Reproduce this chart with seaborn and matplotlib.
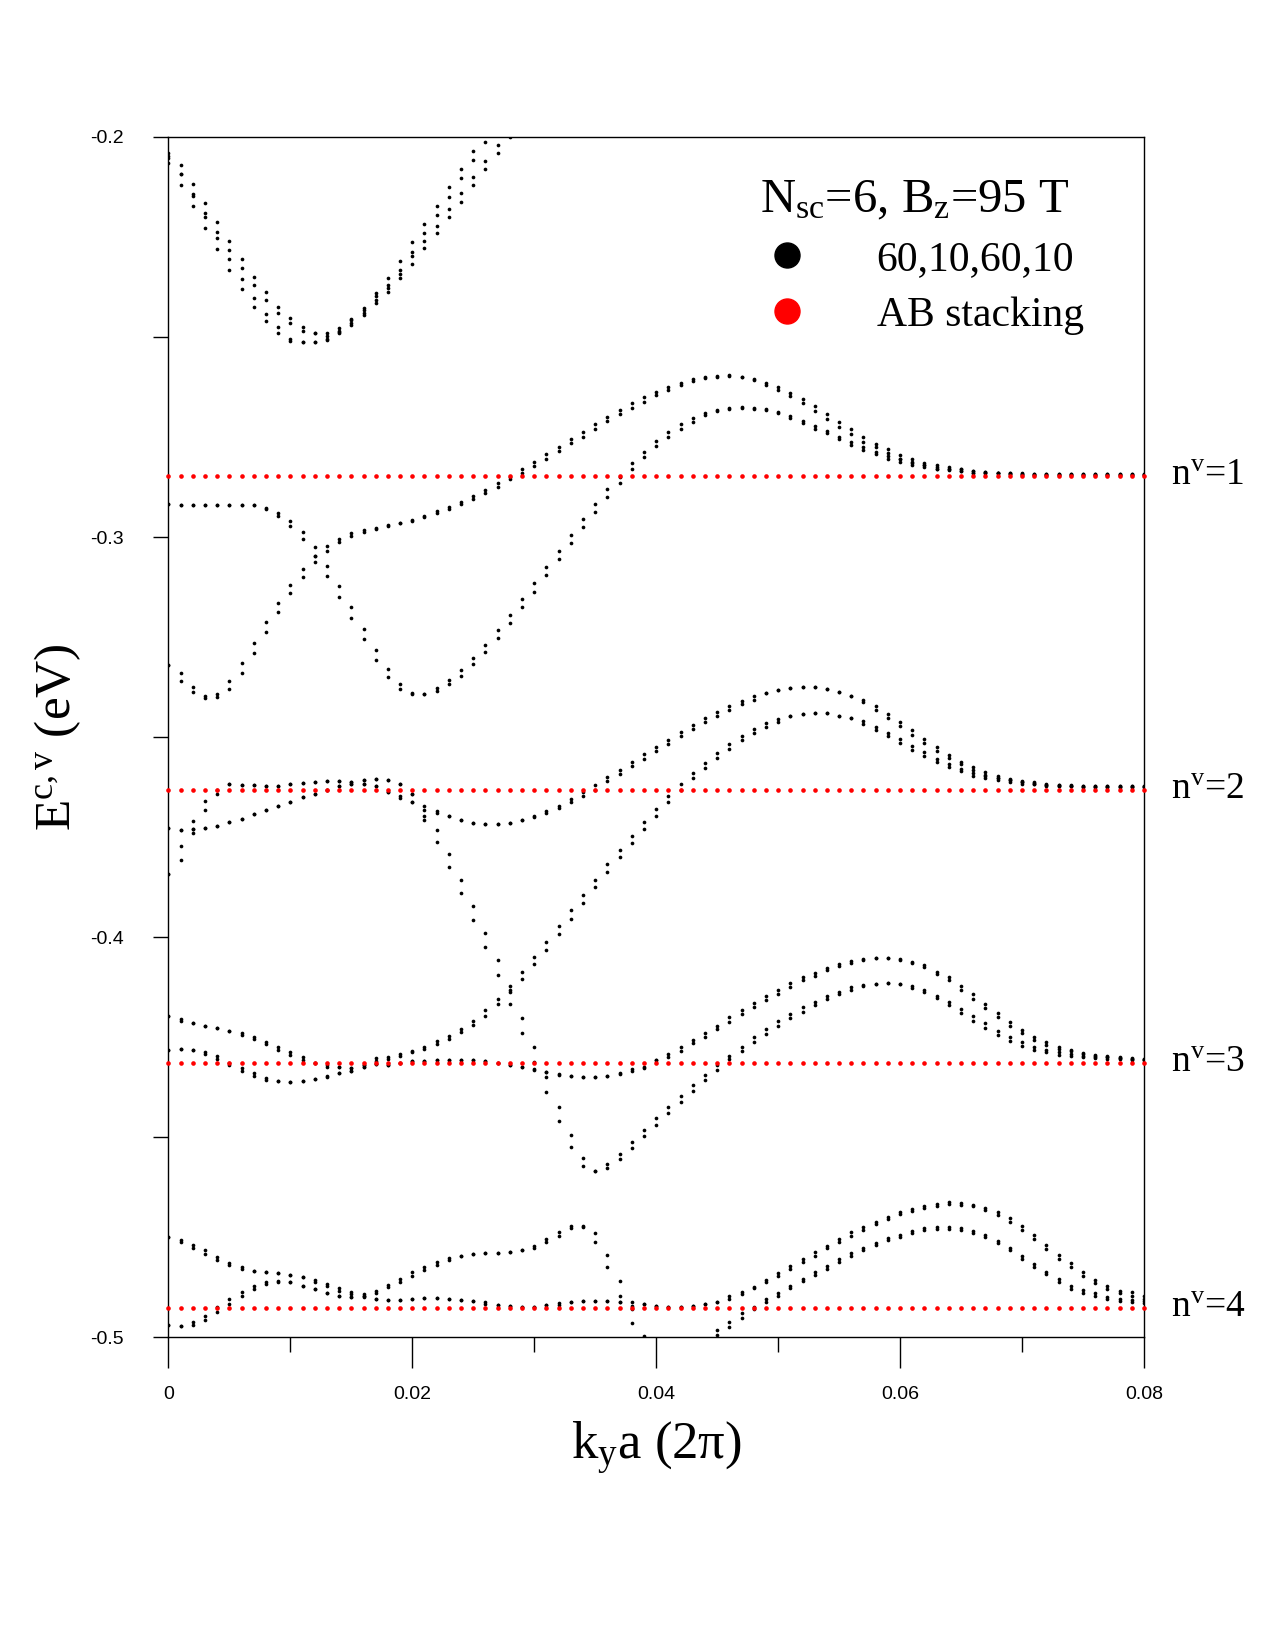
import numpy as np
import pandas as pd
import matplotlib
matplotlib.use('Agg')
import matplotlib.pyplot as plt
from matplotlib.lines import Line2D
import seaborn as sns

# k_y a (2pi) sampling grid of the calculation (step 0.001)
ky = np.round(np.arange(81) * 0.001, 3)

# AB stacking Landau levels n^v = 1..4 (eV)
ab_levels = [-0.2848, -0.3631, -0.4313, -0.4926]
ab_names = ['n$^{\\rm v}$=1', 'n$^{\\rm v}$=2', 'n$^{\\rm v}$=3', 'n$^{\\rm v}$=4']

# 60,10,60,10 bands, E (eV) at ky[start:]
band_A1 = [-0.2041, -0.2071, -0.2118, -0.2166, -0.2214, -0.2261, -0.2306, -0.2350, -0.2389, -0.2425,
           -0.2454, -0.2476, -0.2490, -0.2491, -0.2479, -0.2456, -0.2427, -0.2391, -0.2352, -0.2310,
           -0.2264, -0.2219, -0.2172, -0.2125, -0.2081, -0.2036, -0.1991, -0.1950]
band_A2 = [-0.2047, -0.2094, -0.2143, -0.2191, -0.2238, -0.2284, -0.2329, -0.2371, -0.2408, -0.2441,
           -0.2466, -0.2485, -0.2491, -0.2498, -0.2485, -0.2458, -0.2433, -0.2398, -0.2371, -0.2333,
           -0.2287, -0.2241, -0.2196, -0.2150, -0.2104, -0.2058, -0.2014, -0.1971]
band_A3 = [-0.2054, -0.2094, -0.2147, -0.2201, -0.2254, -0.2306, -0.2356, -0.2402, -0.2444, -0.2476,
           -0.2504, -0.2513, -0.2513, -0.2504, -0.2488, -0.2466, -0.2440, -0.2408, -0.2379, -0.2343,
           -0.2298, -0.2260, -0.2223, -0.2181, -0.2141, -0.2100, -0.2061, -0.2021, -0.1979]
band_A4 = [-0.2066, -0.2121, -0.2174, -0.2227, -0.2281, -0.2332, -0.2381, -0.2425, -0.2461, -0.2490,
           -0.2510, -0.2513, -0.2513, -0.2508, -0.2491, -0.2471, -0.2446, -0.2416, -0.2387, -0.2354,
           -0.2318, -0.2279, -0.2241, -0.2201, -0.2162, -0.2121, -0.2081, -0.2041, -0.2000]

band_P1 = [-0.2918, -0.2920, -0.2921, -0.2921, -0.2920, -0.2919, -0.2919, -0.2921, -0.2927, -0.2939,
           -0.2959, -0.2988, -0.3026, -0.3072, -0.3122, -0.3176, -0.3230, -0.3283, -0.3330, -0.3366,
           -0.3389, -0.3391, -0.3377, -0.3358, -0.3333, -0.3302, -0.3269, -0.3233, -0.3196, -0.3156,
           -0.3116, -0.3076, -0.3035, -0.2996, -0.2956, -0.2917, -0.2881, -0.2850, -0.2816, -0.2787,
           -0.2761, -0.2738, -0.2718, -0.2702, -0.2690, -0.2683, -0.2677, -0.2676, -0.2677, -0.2681,
           -0.2688, -0.2698, -0.2710, -0.2723, -0.2735, -0.2750, -0.2762, -0.2775, -0.2787, -0.2798,
           -0.2806, -0.2815, -0.2821, -0.2825, -0.2829, -0.2831, -0.2835, -0.2837, -0.2839, -0.2840,
           -0.2841, -0.2842, -0.2842, -0.2842, -0.2842, -0.2842, -0.2842, -0.2842, -0.2842, -0.2842, -0.2842]
band_P2 = [-0.2918, -0.2920, -0.2921, -0.2921, -0.2920, -0.2919, -0.2919, -0.2921, -0.2931, -0.2947,
           -0.2972, -0.3006, -0.3048, -0.3097, -0.3149, -0.3203, -0.3256, -0.3308, -0.3350, -0.3380,
           -0.3391, -0.3393, -0.3385, -0.3368, -0.3346, -0.3318, -0.3287, -0.3252, -0.3216, -0.3176,
           -0.3137, -0.3096, -0.3056, -0.3015, -0.2976, -0.2937, -0.2900, -0.2865, -0.2831, -0.2801,
           -0.2773, -0.2750, -0.2729, -0.2712, -0.2696, -0.2686, -0.2679, -0.2677, -0.2679, -0.2683,
           -0.2691, -0.2702, -0.2715, -0.2729, -0.2741, -0.2756, -0.2769, -0.2783, -0.2793, -0.2804,
           -0.2812, -0.2821, -0.2825, -0.2831, -0.2833, -0.2836, -0.2839, -0.2841, -0.2841, -0.2842,
           -0.2843, -0.2844, -0.2844, -0.2844, -0.2844, -0.2844, -0.2844, -0.2844, -0.2844, -0.2844, -0.2844]

band_Q1 = [-0.3321, -0.3340, -0.3375, -0.3398, -0.3391, -0.3360, -0.3314, -0.3264, -0.3212, -0.3164,
           -0.3119, -0.3080, -0.3048, -0.3022, -0.3006, -0.2991, -0.2983, -0.2977, -0.2971, -0.2965,
           -0.2957, -0.2947, -0.2936, -0.2925, -0.2912, -0.2898, -0.2883, -0.2866, -0.2851, -0.2831,
           -0.2812, -0.2793, -0.2775, -0.2756, -0.2737, -0.2718, -0.2700, -0.2683, -0.2666, -0.2651,
           -0.2637, -0.2625, -0.2615, -0.2606, -0.2601, -0.2598, -0.2596, -0.2600, -0.2604, -0.2614,
           -0.2625, -0.2639, -0.2654, -0.2673, -0.2693, -0.2712, -0.2731, -0.2750, -0.2768, -0.2781,
           -0.2794, -0.2804, -0.2814, -0.2821, -0.2826, -0.2831, -0.2835, -0.2837, -0.2839, -0.2841,
           -0.2842, -0.2842, -0.2842, -0.2842, -0.2842, -0.2842, -0.2842, -0.2842, -0.2842, -0.2842, -0.2842]
band_Q2 = [-0.3321, -0.3360, -0.3387, -0.3401, -0.3400, -0.3379, -0.3339, -0.3289, -0.3238, -0.3187,
           -0.3141, -0.3100, -0.3062, -0.3035, -0.3013, -0.2998, -0.2988, -0.2979, -0.2973, -0.2966,
           -0.2959, -0.2951, -0.2941, -0.2931, -0.2918, -0.2906, -0.2891, -0.2875, -0.2856, -0.2840,
           -0.2823, -0.2804, -0.2786, -0.2766, -0.2750, -0.2730, -0.2711, -0.2693, -0.2677, -0.2662,
           -0.2646, -0.2633, -0.2621, -0.2610, -0.2603, -0.2600, -0.2598, -0.2601, -0.2608, -0.2621,
           -0.2633, -0.2648, -0.2666, -0.2685, -0.2704, -0.2725, -0.2743, -0.2762, -0.2776, -0.2790,
           -0.2804, -0.2812, -0.2821, -0.2829, -0.2831, -0.2835, -0.2839, -0.2841, -0.2841, -0.2843,
           -0.2844, -0.2844, -0.2844, -0.2844, -0.2844, -0.2844, -0.2844, -0.2844, -0.2844, -0.2844, -0.2844]

band_T1 = [-0.3841, -0.3772, -0.3709, -0.3660, -0.3631, -0.3618, -0.3619, -0.3619, -0.3621, -0.3621,
           -0.3618, -0.3615, -0.3612, -0.3610, -0.3610, -0.3612, -0.3606, -0.3604, -0.3608, -0.3616,
           -0.3641, -0.3672, -0.3685, -0.3698, -0.3708, -0.3714, -0.3716, -0.3716, -0.3714, -0.3708,
           -0.3696, -0.3685, -0.3671, -0.3654, -0.3637, -0.3619, -0.3600, -0.3581, -0.3562, -0.3543,
           -0.3525, -0.3506, -0.3487, -0.3469, -0.3452, -0.3436, -0.3422, -0.3410, -0.3398, -0.3390,
           -0.3383, -0.3377, -0.3375, -0.3375, -0.3379, -0.3386, -0.3396, -0.3408, -0.3422, -0.3441,
           -0.3461, -0.3483, -0.3504, -0.3525, -0.3544, -0.3561, -0.3575, -0.3587, -0.3596, -0.3604,
           -0.3610, -0.3612, -0.3616, -0.3619, -0.3621, -0.3623, -0.3623, -0.3623, -0.3623, -0.3623, -0.3623]
band_T2 = [-0.3841, -0.3806, -0.3739, -0.3683, -0.3641, -0.3618, -0.3619, -0.3619, -0.3621, -0.3621,
           -0.3618, -0.3615, -0.3612, -0.3610, -0.3610, -0.3612, -0.3606, -0.3604, -0.3608, -0.3616,
           -0.3641, -0.3683, -0.3690, -0.3698, -0.3708, -0.3714, -0.3716, -0.3716, -0.3714, -0.3708,
           -0.3700, -0.3690, -0.3677, -0.3662, -0.3646, -0.3631, -0.3610, -0.3591, -0.3573, -0.3554,
           -0.3535, -0.3516, -0.3497, -0.3479, -0.3462, -0.3446, -0.3431, -0.3418, -0.3406, -0.3390,
           -0.3383, -0.3377, -0.3375, -0.3375, -0.3379, -0.3386, -0.3396, -0.3412, -0.3431, -0.3451,
           -0.3472, -0.3494, -0.3515, -0.3535, -0.3552, -0.3568, -0.3583, -0.3594, -0.3602, -0.3608,
           -0.3612, -0.3616, -0.3619, -0.3621, -0.3623, -0.3625, -0.3625, -0.3625, -0.3625, -0.3625, -0.3625]

band_S1 = [-0.3726, -0.3731, -0.3729, -0.3727, -0.3721, -0.3713, -0.3704, -0.3691, -0.3683, -0.3672,
           -0.3662, -0.3650, -0.3641, -0.3633, -0.3621, -0.3616, -0.3616, -0.3622, -0.3637, -0.3646,
           -0.3662, -0.3698, -0.3733, -0.3793, -0.3856, -0.3922, -0.3990, -0.4058, -0.4131, -0.4202,
           -0.4275, -0.4350, -0.4423, -0.4494, -0.4552, -0.4583, -0.4566, -0.4541, -0.4512, -0.4481,
           -0.4452, -0.4425, -0.4396, -0.4369, -0.4344, -0.4318, -0.4296, -0.4273, -0.4250, -0.4229,
           -0.4210, -0.4191, -0.4175, -0.4161, -0.4146, -0.4137, -0.4125, -0.4119, -0.4116, -0.4115,
           -0.4118, -0.4123, -0.4133, -0.4146, -0.4161, -0.4179, -0.4197, -0.4215, -0.4235, -0.4250,
           -0.4262, -0.4273, -0.4281, -0.4287, -0.4291, -0.4296, -0.4298, -0.4300, -0.4301, -0.4303, -0.4304]
band_S2 = [-0.3726, -0.3731, -0.3729, -0.3727, -0.3721, -0.3713, -0.3704, -0.3691, -0.3683, -0.3672,
           -0.3662, -0.3650, -0.3641, -0.3633, -0.3621, -0.3616, -0.3616, -0.3622, -0.3637, -0.3651,
           -0.3662, -0.3708, -0.3762, -0.3825, -0.3889, -0.3956, -0.4025, -0.4094, -0.4166, -0.4239,
           -0.4311, -0.4387, -0.4460, -0.4525, -0.4572, -0.4583, -0.4576, -0.4554, -0.4526, -0.4497,
           -0.4468, -0.4439, -0.4411, -0.4383, -0.4356, -0.4331, -0.4304, -0.4285, -0.4262, -0.4241,
           -0.4221, -0.4201, -0.4186, -0.4169, -0.4154, -0.4141, -0.4131, -0.4123, -0.4116, -0.4115,
           -0.4118, -0.4126, -0.4137, -0.4151, -0.4169, -0.4189, -0.4208, -0.4226, -0.4243, -0.4258,
           -0.4271, -0.4281, -0.4287, -0.4293, -0.4296, -0.4298, -0.4301, -0.4303, -0.4305, -0.4306, -0.4306]

band_R1 = [-0.4196, -0.4204, -0.4215, -0.4222, -0.4227, -0.4233, -0.4240, -0.4250, -0.4261, -0.4275,
           -0.4287, -0.4300, -0.4313, -0.4318, -0.4323, -0.4327, -0.4318, -0.4302, -0.4300, -0.4291,
           -0.4283, -0.4273, -0.4260, -0.4246, -0.4229, -0.4208, -0.4183, -0.4154, -0.4121, -0.4087,
           -0.4050, -0.4012, -0.3973, -0.3933, -0.3894, -0.3856, -0.3818, -0.3781, -0.3746, -0.3711,
           -0.3679, -0.3646, -0.3618, -0.3590, -0.3565, -0.3540, -0.3518, -0.3497, -0.3479, -0.3465,
           -0.3454, -0.3447, -0.3441, -0.3439, -0.3440, -0.3446, -0.3452, -0.3460, -0.3475, -0.3489,
           -0.3504, -0.3521, -0.3537, -0.3554, -0.3566, -0.3579, -0.3589, -0.3596, -0.3601, -0.3608,
           -0.3612, -0.3615, -0.3619, -0.3619, -0.3619, -0.3623, -0.3623, -0.3623, -0.3623, -0.3623, -0.3623]
band_R2 = [-0.4196, -0.4208, -0.4215, -0.4222, -0.4227, -0.4233, -0.4243, -0.4255, -0.4266, -0.4281,
           -0.4294, -0.4306, -0.4313, -0.4323, -0.4323, -0.4327, -0.4318, -0.4308, -0.4305, -0.4296,
           -0.4287, -0.4279, -0.4266, -0.4254, -0.4237, -0.4218, -0.4196, -0.4168, -0.4137, -0.4104,
           -0.4068, -0.4031, -0.3993, -0.3954, -0.3914, -0.3875, -0.3837, -0.3800, -0.3764, -0.3729,
           -0.3696, -0.3662, -0.3631, -0.3602, -0.3576, -0.3551, -0.3529, -0.3508, -0.3490, -0.3475,
           -0.3462, -0.3447, -0.3441, -0.3439, -0.3440, -0.3446, -0.3452, -0.3466, -0.3481, -0.3498,
           -0.3514, -0.3531, -0.3548, -0.3562, -0.3575, -0.3585, -0.3596, -0.3601, -0.3608, -0.3612,
           -0.3616, -0.3618, -0.3621, -0.3621, -0.3621, -0.3625, -0.3625, -0.3625, -0.3625, -0.3625, -0.3625]

band_W1 = [-0.4281, -0.4280, -0.4281, -0.4287, -0.4296, -0.4315, -0.4327, -0.4340, -0.4352, -0.4360,
           -0.4362, -0.4360, -0.4355, -0.4346, -0.4339, -0.4333, -0.4323, -0.4316, -0.4318, -0.4313,
           -0.4308, -0.4308, -0.4306, -0.4306, -0.4306, -0.4306, -0.4308, -0.4315, -0.4318, -0.4325,
           -0.4329, -0.4336, -0.4341, -0.4347, -0.4350, -0.4350, -0.4347, -0.4339, -0.4330, -0.4323,
           -0.4306, -0.4291, -0.4275, -0.4256, -0.4239, -0.4221, -0.4200, -0.4181, -0.4165, -0.4146,
           -0.4131, -0.4115, -0.4100, -0.4089, -0.4077, -0.4068, -0.4060, -0.4054, -0.4052, -0.4052,
           -0.4054, -0.4061, -0.4070, -0.4086, -0.4100, -0.4121, -0.4143, -0.4166, -0.4190, -0.4211,
           -0.4231, -0.4248, -0.4262, -0.4273, -0.4281, -0.4288, -0.4293, -0.4297, -0.4300, -0.4301, -0.4304]
band_W2 = [-0.4281, -0.4280, -0.4281, -0.4291, -0.4304, -0.4318, -0.4333, -0.4346, -0.4356, -0.4360,
           -0.4362, -0.4360, -0.4355, -0.4350, -0.4339, -0.4333, -0.4323, -0.4316, -0.4318, -0.4313,
           -0.4308, -0.4308, -0.4306, -0.4306, -0.4306, -0.4306, -0.4308, -0.4315, -0.4318, -0.4325,
           -0.4331, -0.4336, -0.4344, -0.4347, -0.4350, -0.4350, -0.4347, -0.4341, -0.4333, -0.4326,
           -0.4306, -0.4298, -0.4283, -0.4265, -0.4248, -0.4229, -0.4211, -0.4191, -0.4175, -0.4156,
           -0.4141, -0.4125, -0.4108, -0.4096, -0.4083, -0.4073, -0.4065, -0.4057, -0.4052, -0.4052,
           -0.4057, -0.4064, -0.4075, -0.4091, -0.4108, -0.4131, -0.4154, -0.4177, -0.4200, -0.4221,
           -0.4240, -0.4256, -0.4268, -0.4279, -0.4285, -0.4291, -0.4296, -0.4300, -0.4302, -0.4304, -0.4306]

band_X1 = [-0.4750, -0.4756, -0.4769, -0.4781, -0.4798, -0.4815, -0.4825, -0.4833, -0.4837, -0.4840,
           -0.4844, -0.4850, -0.4856, -0.4866, -0.4876, -0.4887, -0.4891, -0.4904, -0.4906, -0.4906,
           -0.4904, -0.4902, -0.4902, -0.4904, -0.4906, -0.4910, -0.4912, -0.4918, -0.4921, -0.4925,
           -0.4925, -0.4918, -0.4915, -0.4912, -0.4908, -0.4908, -0.4908, -0.4911, -0.4912, -0.4916,
           -0.4921, -0.4923, -0.4923, -0.4921, -0.4916, -0.4911, -0.4897, -0.4887, -0.4873, -0.4856,
           -0.4839, -0.4821, -0.4804, -0.4787, -0.4771, -0.4754, -0.4737, -0.4725, -0.4712, -0.4700,
           -0.4687, -0.4678, -0.4671, -0.4666, -0.4662, -0.4664, -0.4668, -0.4676, -0.4687, -0.4702,
           -0.4721, -0.4743, -0.4768, -0.4793, -0.4815, -0.4837, -0.4856, -0.4871, -0.4883, -0.4887, -0.4897]
band_X2 = [-0.4750, -0.4762, -0.4776, -0.4791, -0.4806, -0.4818, -0.4829, -0.4833, -0.4837, -0.4840,
           -0.4844, -0.4850, -0.4862, -0.4871, -0.4883, -0.4891, -0.4898, -0.4904, -0.4906, -0.4906,
           -0.4904, -0.4902, -0.4902, -0.4904, -0.4906, -0.4910, -0.4916, -0.4918, -0.4921, -0.4925,
           -0.4925, -0.4918, -0.4918, -0.4912, -0.4908, -0.4908, -0.4908, -0.4911, -0.4921, -0.4916,
           -0.4921, -0.4923, -0.4923, -0.4921, -0.4916, -0.4911, -0.4904, -0.4891, -0.4876, -0.4862,
           -0.4846, -0.4829, -0.4812, -0.4796, -0.4776, -0.4762, -0.4746, -0.4731, -0.4716, -0.4704,
           -0.4691, -0.4683, -0.4676, -0.4671, -0.4667, -0.4669, -0.4672, -0.4681, -0.4693, -0.4711,
           -0.4731, -0.4754, -0.4779, -0.4804, -0.4825, -0.4846, -0.4864, -0.4879, -0.4890, -0.4896, -0.4905]

band_Y1 = [-0.4969, -0.4972, -0.4962, -0.4946, -0.4925, -0.4904, -0.4887, -0.4871, -0.4861, -0.4858,
           -0.4862, -0.4871, -0.4879, -0.4890, -0.4896, -0.4898, -0.4896, -0.4885, -0.4869, -0.4854,
           -0.4837, -0.4823, -0.4812, -0.4801, -0.4796, -0.4791, -0.4790, -0.4789, -0.4787, -0.4781,
           -0.4771, -0.4754, -0.4737, -0.4722, -0.4721, -0.4739, -0.4793, -0.4860, -0.4929, -0.4997]
band_Y2 = [-0.4969, -0.4972, -0.4968, -0.4956, -0.4936, -0.4916, -0.4896, -0.4879, -0.4866, -0.4862,
           -0.4862, -0.4871, -0.4879, -0.4890, -0.4896, -0.4898, -0.4896, -0.4890, -0.4875, -0.4862,
           -0.4846, -0.4831, -0.4818, -0.4806, -0.4796, -0.4791, -0.4790, -0.4789, -0.4787, -0.4781,
           -0.4776, -0.4762, -0.4746, -0.4727, -0.4725, -0.4762, -0.4825, -0.4896, -0.4964, -0.5033]

band_Z1 = [-0.5008, -0.4981, -0.4962, -0.4940, -0.4923, -0.4904, -0.4889, -0.4871, -0.4854, -0.4837,
           -0.4821, -0.4804, -0.4790, -0.4776, -0.4764, -0.4752, -0.4743, -0.4733, -0.4727, -0.4725,
           -0.4725, -0.4726, -0.4735, -0.4745, -0.4760, -0.4776, -0.4796, -0.4816, -0.4836, -0.4854,
           -0.4871, -0.4881, -0.4890, -0.4898, -0.4904, -0.4906, -0.4910]
band_Z2 = [-0.5016, -0.4994, -0.4973, -0.4951, -0.4929, -0.4912, -0.4896, -0.4876, -0.4860, -0.4843,
           -0.4829, -0.4812, -0.4796, -0.4781, -0.4769, -0.4757, -0.4748, -0.4738, -0.4731, -0.4728,
           -0.4728, -0.4731, -0.4740, -0.4750, -0.4765, -0.4781, -0.4803, -0.4825, -0.4842, -0.4862,
           -0.4879, -0.4888, -0.4896, -0.4904, -0.4909, -0.4912, -0.4915]

# first ky index of every band
band_start = {'A1': 0, 'A2': 0, 'A3': 0, 'A4': 0, 'P1': 0, 'P2': 0, 'Q1': 0, 'Q2': 0,
              'T1': 0, 'T2': 0, 'S1': 0, 'S2': 0, 'R1': 0, 'R2': 0, 'W1': 0, 'W2': 0,
              'X1': 0, 'X2': 0, 'Y1': 0, 'Y2': 0, 'Z1': 44, 'Z2': 44}

x_major = [0, 0.02, 0.04, 0.06, 0.08]
x_labels = ['0', '0.02', '0.04', '0.06', '0.08']
x_minor = [0.01, 0.03, 0.05, 0.07]
y_major = [-0.5, -0.4, -0.3, -0.2]
y_labels = ['-0.5', '-0.4', '-0.3', '-0.2']
y_minor = [-0.45, -0.35, -0.25]


def band_frame():
    """
    Long form table of all 60,10,60,10 band points
    """
    bands = {'A1': band_A1, 'A2': band_A2, 'A3': band_A3, 'A4': band_A4,
             'P1': band_P1, 'P2': band_P2, 'Q1': band_Q1, 'Q2': band_Q2,
             'T1': band_T1, 'T2': band_T2, 'S1': band_S1, 'S2': band_S2,
             'R1': band_R1, 'R2': band_R2, 'W1': band_W1, 'W2': band_W2,
             'X1': band_X1, 'X2': band_X2, 'Y1': band_Y1, 'Y2': band_Y2,
             'Z1': band_Z1, 'Z2': band_Z2}
    frames = []
    for name, values in bands.items():
        start = band_start[name]
        frames.append(pd.DataFrame({'ky': ky[start:start + len(values)], 'E': values, 'band': name}))
    return pd.concat(frames, ignore_index=True)


def ab_frame():
    """
    AB stacking levels, one point per ky
    """
    return pd.DataFrame({'ky': np.tile(ky, len(ab_levels)),
                         'E': np.repeat(ab_levels, len(ky))})


def main():
    sns.set_style('ticks', {'axes.edgecolor': 'black', 'xtick.color': 'black', 'ytick.color': 'black',
                            'text.color': 'black', 'axes.labelcolor': 'black'})
    plt.rcParams['font.family'] = ['Liberation Serif', 'DejaVu Serif']
    plt.rcParams['mathtext.fontset'] = 'custom'
    plt.rcParams['mathtext.rm'] = 'Liberation Serif'
    plt.rcParams['mathtext.it'] = 'Liberation Serif:italic'
    plt.rcParams['axes.unicode_minus'] = False

    fig = plt.figure(figsize=(12.75, 16.5), dpi=100)
    ax = fig.add_axes([0.1321, 0.1894, 0.7651, 0.7277])

    sns.scatterplot(data=band_frame(), x='ky', y='E', color='black', s=7, linewidth=0,
                    ax=ax, legend=False, zorder=3)
    sns.scatterplot(data=ab_frame(), x='ky', y='E', color='red', s=11, linewidth=0,
                    ax=ax, legend=False, zorder=4, clip_on=False)

    ax.set_xlim(0, 0.08)
    ax.set_ylim(-0.5, -0.2)
    ax.set_xticks(x_major)
    ax.set_xticklabels(x_labels)
    ax.set_xticks(x_minor, minor=True)
    ax.set_yticks(y_major)
    ax.set_yticklabels(y_labels)
    ax.set_yticks(y_minor, minor=True)
    ax.tick_params(axis='x', which='major', direction='out', length=22, width=1, pad=13,
                   labelsize=14, labelfontfamily='Liberation Sans')
    ax.tick_params(axis='x', which='minor', direction='out', length=11, width=1)
    ax.tick_params(axis='y', which='both', direction='out', length=11, width=1, pad=21,
                   labelsize=14, labelfontfamily='Liberation Sans')
    for side in ['top', 'right', 'left', 'bottom']:
        ax.spines[side].set_visible(True)
        ax.spines[side].set_linewidth(1.0)

    ax.set_xlabel('k$_{\\rm y}$a (2π)', fontsize=38)
    ax.xaxis.set_label_coords(0.5, -0.068)
    ax.set_ylabel('E$^{\\rm c,v}$ (eV)', fontsize=37)
    ax.yaxis.set_label_coords(-0.088, 0.5)

    # level names on the right of the frame
    for level, name in zip(ab_levels, ab_names):
        ax.text(1.028, level, name, transform=ax.get_yaxis_transform(), fontsize=27,
                ha='left', va='center')

    handles = [Line2D([], [], marker='o', linestyle='none', markersize=18, color='black'),
               Line2D([], [], marker='o', linestyle='none', markersize=18, color='red')]
    ax.legend(handles, ['60,10,60,10', 'AB stacking'],
              title='N$_{\\rm sc}$=6, B$_{\\rm z}$=95 T', title_fontsize=35, fontsize=30,
              loc='upper left', bbox_to_anchor=(0.6065, 0.965), frameon=False, alignment='left',
              handlelength=1.3, handletextpad=1.5, labelspacing=0.42, borderpad=0, borderaxespad=0)

    fig.savefig('out.png', dpi=100)


if __name__ == '__main__':
    main()
